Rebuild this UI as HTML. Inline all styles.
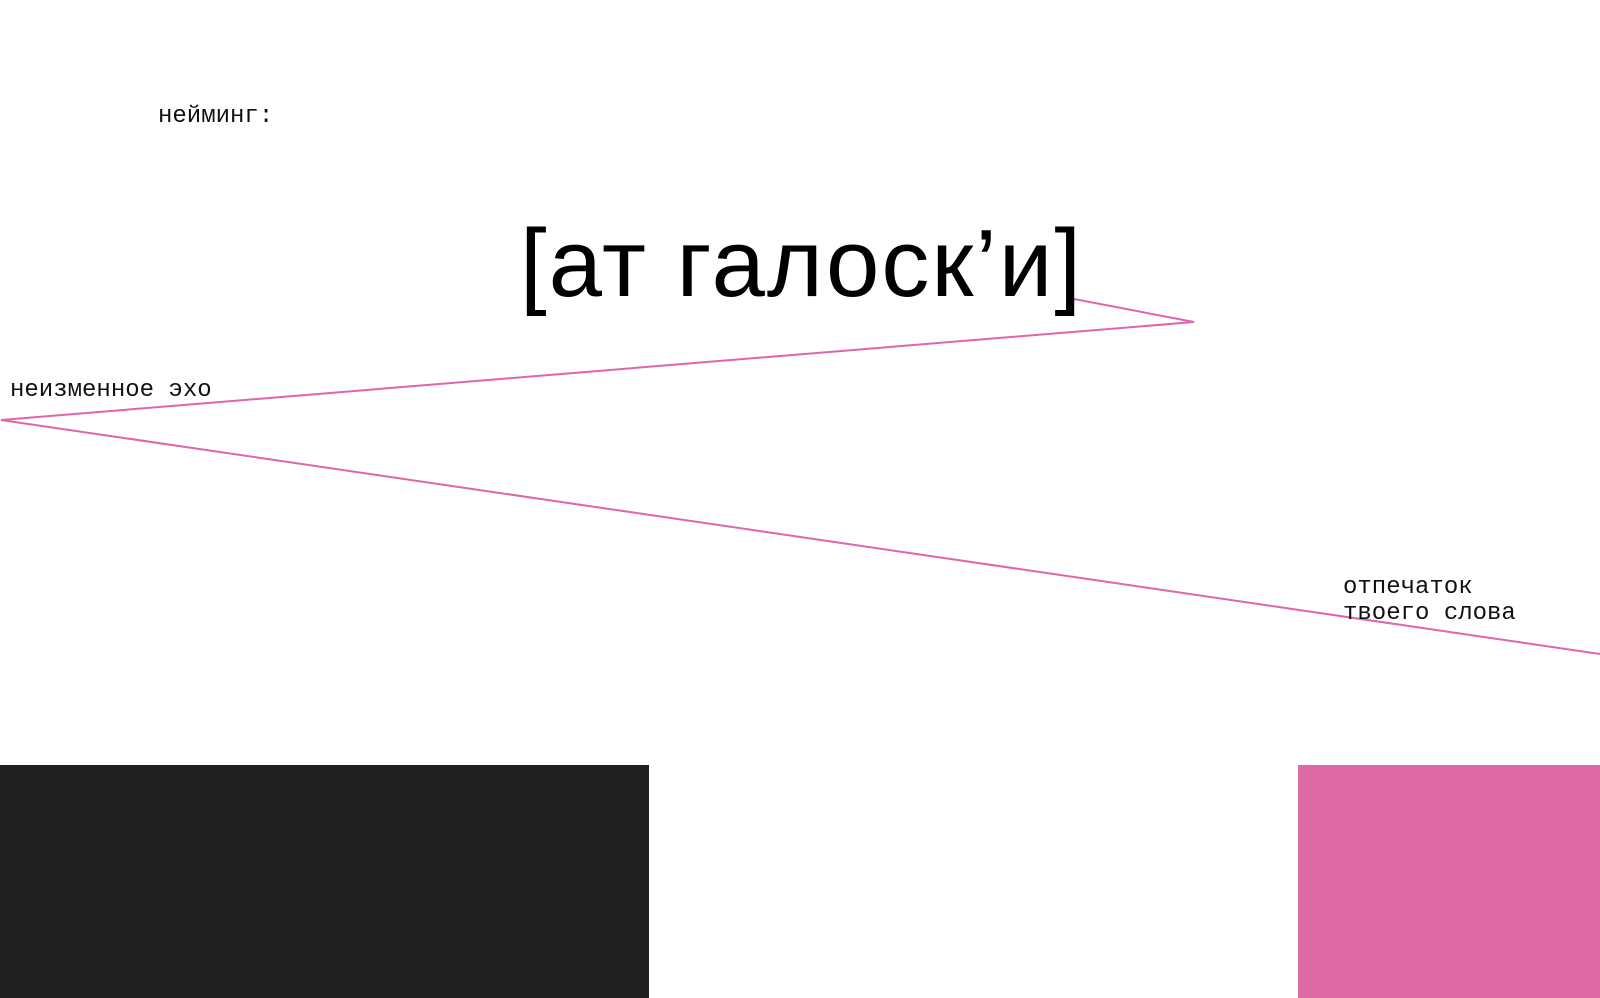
<!DOCTYPE html>
<html><head><meta charset="utf-8"><style>
html,body{margin:0;padding:0;background:#fff;}
body{width:1600px;height:998px;position:relative;overflow:hidden;}
.m{position:absolute;font-family:"Liberation Mono",monospace;font-size:24px;color:#111;line-height:1;white-space:pre;}
.t{position:absolute;left:520px;top:216px;font-family:"Liberation Sans",sans-serif;font-size:96px;line-height:1;color:#000;white-space:pre;letter-spacing:2px;}
</style></head><body>
<svg width="1600" height="998" style="position:absolute;left:0;top:0">
<polyline points="1074,299 1194,322 1,420 1600,654" fill="none" stroke="#e066a8" stroke-width="2"/>
<rect x="0" y="765" width="649" height="233" fill="#212121"/>
<rect x="1298" y="765" width="302" height="233" fill="#dd69a5"/>
</svg>
<div class="m" style="left:158px;top:105px;">нейминг:</div>
<div class="t">[ат галоск’и]</div>
<div class="m" style="left:10px;top:379px;">неизменное эхо</div>
<div class="m" style="left:1343px;top:576px;">отпечаток</div>
<div class="m" style="left:1343px;top:602px;">твоего слова</div>
</body></html>
